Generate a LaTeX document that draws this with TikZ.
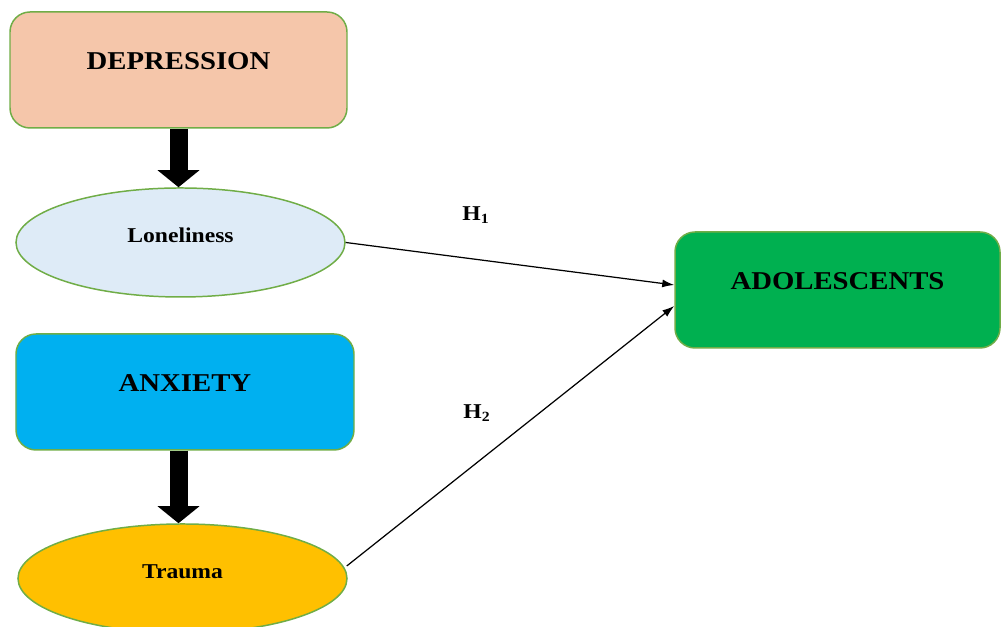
\documentclass[tikz,border=0pt]{standalone}
\usepackage{fontspec}
\setmainfont{Liberation Serif}[FakeStretch=1.12]
\usetikzlibrary{shapes.geometric,arrows.meta}
\definecolor{edgegreen}{HTML}{70AD47}
\definecolor{peach}{HTML}{F5C6AA}
\definecolor{paleblue}{HTML}{DEEBF7}
\definecolor{skyblue}{HTML}{00B0F0}
\definecolor{amber}{HTML}{FFC000}
\definecolor{leafgreen}{HTML}{00B050}
\begin{document}
\begin{tikzpicture}[
  box/.style={draw=edgegreen, line width=0.85pt, rounded corners=0.4cm, minimum width=6.74cm, minimum height=2.32cm, font=\fontsize{14.6}{16}\selectfont\bfseries, text height=0.4cm, text depth=0.4cm},
  oval/.style={ellipse, draw=edgegreen, line width=0.85pt, inner sep=0pt, minimum width=6.58cm, minimum height=2.18cm, font=\fontsize{12}{14}\selectfont\bfseries, text height=0.3cm, text depth=0.3cm},
  fat/.style={line width=0.36cm, -{Triangle[width=0.82cm, length=0.34cm]}},
  hyp/.style={line width=0.7pt, -{Latex[length=0.24cm, width=0.16cm]}},
  hlabel/.style={font=\fontsize{12}{14}\selectfont\bfseries}]
% Model of the two hypotheses
\useasboundingbox (0,0) rectangle (20.02,12.54);
\node[box, fill=peach] (dep) at (3.57,11.14) {DEPRESSION};
\node[oval, fill=paleblue] (lone) at (3.61,7.69) {Loneliness};
\node[box, fill=skyblue, minimum width=6.76cm] (anx) at (3.70,4.70) {ANXIETY};
\node[oval, fill=amber] (trauma) at (3.65,0.97) {Trauma};
\node[box, fill=leafgreen, minimum width=6.5cm] (adol) at (16.75,6.74) {ADOLESCENTS};
\draw[fat] (dep.south) -- (dep.south |- lone.north);
\draw[fat] (dep.south |- anx.south) -- (dep.south |- trauma.north);
\draw[hyp] (lone.east) -- ([yshift=0.1cm]adol.west);
\draw[hyp] ([xshift=-0.02cm, yshift=0.25cm]trauma.east) -- ([yshift=-0.32cm]adol.west);
\node[hlabel] (h1) at (9.52,8.24) {H\textsubscript{1}};
\node[hlabel] (h2) at (9.54,4.28) {H\textsubscript{2}};
\end{tikzpicture}
\end{document}
